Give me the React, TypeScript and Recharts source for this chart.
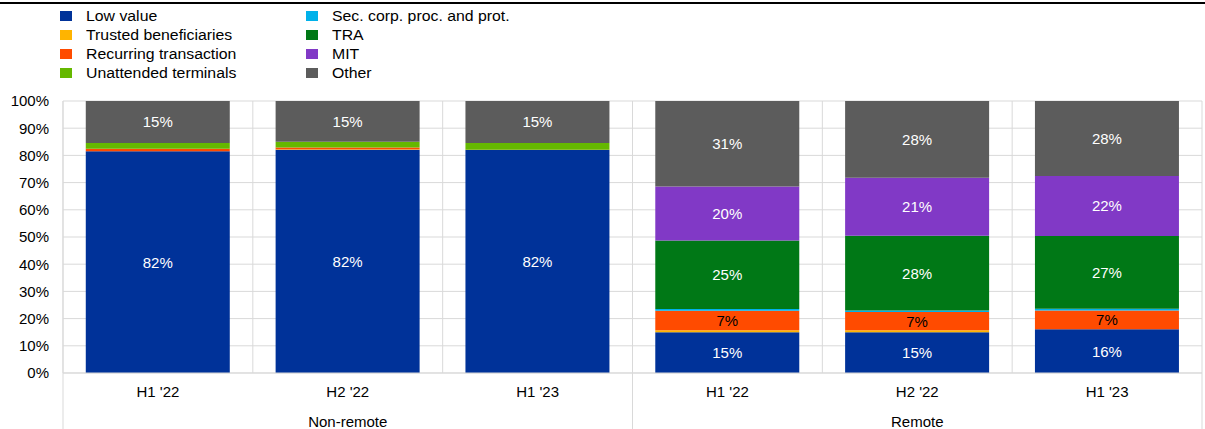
import React from 'react';
import { BarChart, Bar, XAxis, YAxis, CartesianGrid, LabelList } from 'recharts';

const periods = ["H1 '22", "H2 '22", "H1 '23", "H1 '22", "H2 '22", "H1 '23"];
const groups = ['Non-remote', 'Non-remote', 'Non-remote', 'Remote', 'Remote', 'Remote'];
const lowValue = [81.5, 82.1, 82.0, 15.0, 15.0, 16.1];
const trusted = [0, 0.2, 0, 0.7, 0.7, 0];
const recurring = [0.9, 0.6, 0.1, 7.2, 6.7, 6.9];
const unattended = [2.2, 2.1, 2.5, 0, 0, 0];
const secCorp = [0, 0, 0, 0.6, 0.6, 0.6];
const tra = [0, 0, 0, 25.2, 27.5, 26.8];
const mit = [0, 0, 0, 19.9, 21.3, 22.0];
const other = [15.4, 15.0, 15.4, 31.4, 28.2, 27.6];
const yTicks = [0, 10, 20, 30, 40, 50, 60, 70, 80, 90, 100];

const seriesDefs = [
  { key: 'low', name: 'Low value', color: '#003299', values: lowValue, label: '#ffffff' },
  { key: 'trusted', name: 'Trusted beneficiaries', color: '#ffb400', values: trusted, label: '#ffffff' },
  { key: 'recurring', name: 'Recurring transaction', color: '#ff4b00', values: recurring, label: '#000000' },
  { key: 'unattended', name: 'Unattended terminals', color: '#65b800', values: unattended, label: '#ffffff' },
  { key: 'seccorp', name: 'Sec. corp. proc. and prot.', color: '#00b1ea', values: secCorp, label: '#ffffff' },
  { key: 'tra', name: 'TRA', color: '#007816', values: tra, label: '#ffffff' },
  { key: 'mit', name: 'MIT', color: '#8139c6', values: mit, label: '#ffffff' },
  { key: 'other', name: 'Other', color: '#5c5c5c', values: other, label: '#ffffff' },
];

const data = periods.map((p, i) => {
  const row: any = { period: p, idx: i, group: groups[i] };
  seriesDefs.forEach((s) => { row[s.key] = s.values[i]; });
  return row;
});

const FONT = '"Liberation Sans", Arial, sans-serif';
const W = 1205;
const H = 429;
const LEFT = 63;
const RIGHT = 3;
const TOP = 101;
const PLOT_BOTTOM = 373;
const PLOT_W = W - LEFT - RIGHT;
const BAND = PLOT_W / periods.length;

const makeLabel = (color: string) => (props: any) => {
  const { x, y, width, height, value } = props;
  if (value == null || value < 5) return null;
  return (
    <text x={x + width / 2} y={y + height / 2} textAnchor="middle" dominantBaseline="central"
      fill={color} fontSize={15} fontFamily={FONT}>
      {Math.round(value) + '%'}
    </text>
  );
};

const GroupTick = (props: any) => {
  const { x, index } = props;
  const items: any[] = [];
  const first = index === 0 || groups[index] !== groups[index - 1];
  const last = index === groups.length - 1;
  if (first) items.push(<line key="l" x1={x - BAND / 2} x2={x - BAND / 2} y1={PLOT_BOTTOM} y2={H} stroke="#d9d9d9" strokeWidth={1} />);
  if (last) items.push(<line key="r" x1={x + BAND / 2} x2={x + BAND / 2} y1={PLOT_BOTTOM} y2={H} stroke="#d9d9d9" strokeWidth={1} />);
  const members = groups.map((g, i) => (g === groups[index] ? i : -1)).filter((i) => i >= 0);
  const mid = members[Math.floor(members.length / 2)];
  if (mid === index) {
    items.push(
      <text key="t" x={x} y={421} textAnchor="middle" dominantBaseline="central" fill="#000" fontSize={15} fontFamily={FONT}>
        {groups[index]}
      </text>
    );
  }
  return <g>{items}</g>;
};

const legendCol1 = seriesDefs.slice(0, 4);
const legendCol2 = seriesDefs.slice(4);

export default function App() {
  return (
    <div style={{ position: 'absolute', left: 0, top: 0, width: W, height: H, background: '#fff', fontFamily: FONT, overflow: 'hidden' }}>
      <div style={{ position: 'absolute', left: 0, top: 2, width: W, height: 2, background: '#000' }} />
      {[legendCol1, legendCol2].map((col, ci) => (
        <div key={ci} style={{ position: 'absolute', left: ci === 0 ? 60 : 306, top: 6.5 }}>
          {col.map((s) => (
            <div key={s.key} style={{ position: 'relative', height: 19, fontSize: 14, color: '#000', whiteSpace: 'nowrap' }}>
              <span style={{ position: 'absolute', left: 0, top: 4, width: 12, height: 10, background: s.color }} />
              <span style={{ position: 'absolute', left: 26, top: 0, lineHeight: '19px', transform: 'scaleX(1.13)', transformOrigin: 'left center' }}>
                {s.name}
              </span>
            </div>
          ))}
        </div>
      ))}
      <div style={{ position: 'absolute', left: 0, top: 0 }}>
        <BarChart width={W} height={H} data={data} margin={{ top: TOP, right: RIGHT, left: 0, bottom: 0 }} barCategoryGap="12%">
          <CartesianGrid stroke="#d9d9d9" strokeWidth={1}
            verticalCoordinatesGenerator={({ offset }: any) => {
              const arr: number[] = [];
              for (let i = 0; i <= periods.length; i++) arr.push(offset.left + (i * offset.width) / periods.length);
              return arr;
            }} />
          <XAxis dataKey="period" height={28} tickLine={false} axisLine={{ stroke: '#d9d9d9' }}
            tick={{ fontSize: 15, fill: '#000', fontFamily: FONT }} tickMargin={7} interval={0} />
          <XAxis xAxisId="grp" dataKey="period" height={28} tickLine={false} axisLine={false} tick={<GroupTick />} interval={0} />
          <YAxis width={LEFT} domain={[0, 100]} ticks={yTicks} tickFormatter={(v: number) => v + '%'}
            tickLine={false} axisLine={{ stroke: '#d9d9d9' }} tickMargin={8}
            tick={{ fontSize: 15, fill: '#000', fontFamily: FONT }} allowDataOverflow />
          {seriesDefs.map((s) => (
            <Bar key={s.key} dataKey={s.key} name={s.name} stackId="a" fill={s.color} isAnimationActive={false}>
              <LabelList dataKey={s.key} content={makeLabel(s.label)} />
            </Bar>
          ))}
        </BarChart>
      </div>
    </div>
  );
}
